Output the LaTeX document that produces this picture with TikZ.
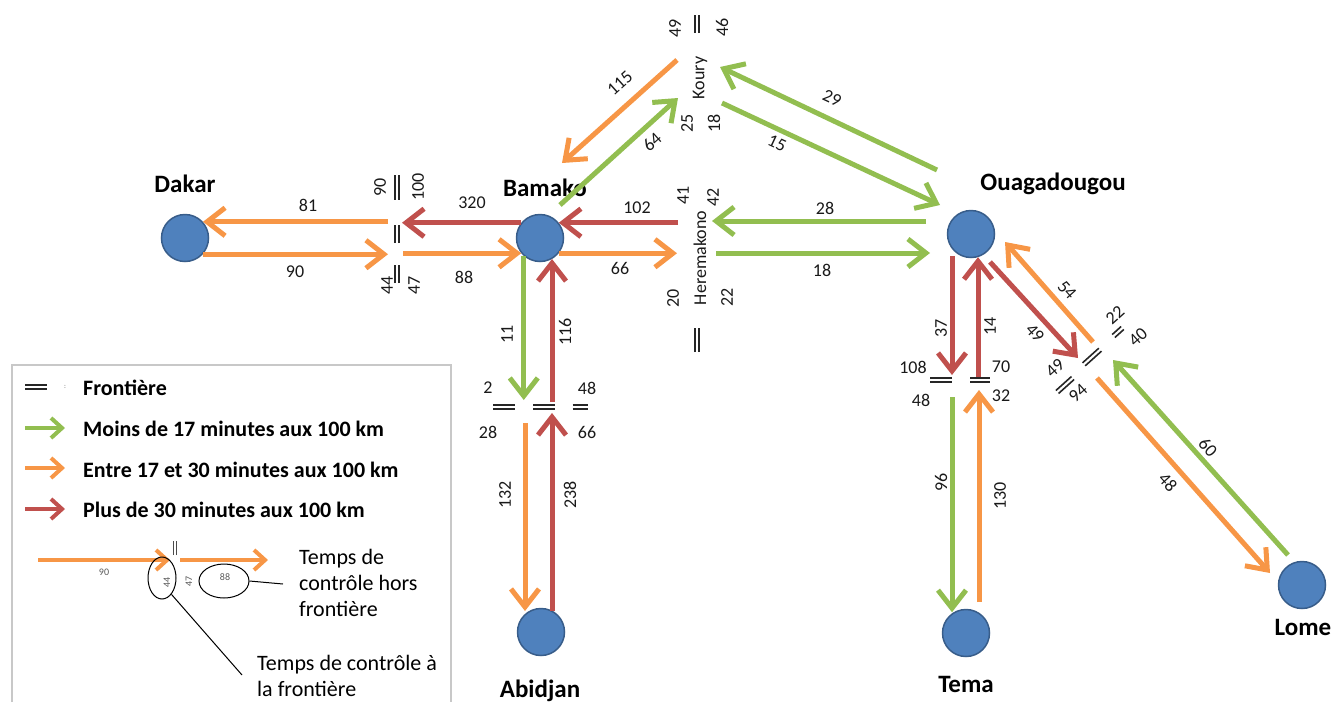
\documentclass[tikz,border=0pt]{standalone}
\usepackage{fontspec}
\setmainfont{Carlito}
\usetikzlibrary{arrows.meta,shapes.geometric}
\definecolor{cgreen}{RGB}{146,190,80}
\definecolor{corange}{RGB}{247,150,70}
\definecolor{cred}{RGB}{192,80,77}
\definecolor{cblue}{RGB}{79,129,189}
\definecolor{cblueD}{RGB}{56,93,138}
\definecolor{cbox}{RGB}{200,200,200}
\begin{document}
\begin{tikzpicture}[x=1pt,y=-1pt,
  city/.style={circle, fill=cblue, draw=cblueD, line width=1.5pt, minimum size=47pt, inner sep=0pt},
  cname/.style={font=\fontsize{25}{28}\selectfont\bfseries, anchor=base, inner sep=0pt},
  num/.style={font=\fontsize{18}{20}\selectfont, text=black!90, inner sep=0pt},
  vnum/.style={num, rotate=90},
  arr/.style={line width=5pt, -{Straight Barb[length=18pt,width=28pt,line width=5pt]}},
  ga/.style={arr, draw=cgreen},
  oa/.style={arr, draw=corange},
  ra/.style={arr, draw=cred},
  larr/.style={line width=4pt, -{Straight Barb[length=11pt,width=20pt,line width=4pt]}},
  bord/.style={line width=1.6pt, draw=black!85},
  pics/bmark/.style={code={\draw[bord] (-#1,-2)--(#1,-2) (-#1,2)--(#1,2);}},
  pics/smark/.style={code={\draw[line width=0.8pt, draw=black!70] (-#1,-1.2)--(#1,-1.2) (-#1,1.2)--(#1,1.2);}},
  leg/.style={font=\fontsize{22}{26}\selectfont\bfseries, anchor=base west, inner sep=0pt},
  legt/.style={font=\fontsize{22}{26}\selectfont, align=left, inner sep=0pt, anchor=north west},
  sn/.style={font=\fontsize{10}{12}\selectfont, text=black!65, inner sep=0pt},
  ell/.style={ellipse, draw=black, line width=1pt, inner sep=0pt},
  legline/.style={draw=black, line width=1pt}
]
\useasboundingbox (0,0) rectangle (1335,702);

% ---------- cities ----------
\node[city] (dakar) at (185,238) {};
\node[city] (bamako) at (540,238) {};
\node[city] (ouaga) at (971,234) {};
\node[city] (tema) at (966,633) {};
\node[city] (lome) at (1302,585) {};
\node[city] (abidjan) at (541,632) {};
\node[cname] (ldakar) at (185,192) {Dakar};
\node[cname] (lbamako) at (545,196) {Bamako};
\node[cname] (louaga) at (1053,190) {Ouagadougou};
\node[cname] (ltema) at (966,692) {Tema};
\node[cname] (llome) at (1303,635) {Lome};
\node[cname] (labidjan) at (540,697) {Abidjan};

% ---------- Dakar - Bamako ----------
\coordinate (bdbU) at (402,222);
\coordinate (bdbUo) at (388,222);
\coordinate (bdbLo) at (388,253);
\coordinate (bdbLs) at (403,253);
\draw[ra] (bamako.141) -- (bamako.141 -| bdbU);
\draw[oa] (bdbUo |- dakar.42) -- (dakar.42);
\draw[oa] (dakar.-42) -- (dakar.-42 -| bdbLo);
\draw[oa] (bdbLs |- bamako.-141) -- (bamako.-141);

% ---------- Bamako - Heremakono - Ouagadougou ----------
\coordinate (hU) at (678,222);
\coordinate (hL) at (677,253);
\draw[ra] (hU |- bamako.39) -- (bamako.39);
\draw[oa] (bamako.-39) -- (bamako.-39 -| hL);
\coordinate (hUg) at (712,221);
\coordinate (oUg) at (926,221);
\coordinate (hLg) at (716,253);
\coordinate (oLg) at (930,253);
\draw[ga] (oUg) -- (hUg);
\draw[ga] (hLg) -- (oLg);

% ---------- Koury ----------
\coordinate (k115s) at (677,60);
\coordinate (k115e) at (562,163);
\coordinate (k64s) at (560,205);
\coordinate (k64e) at (678,98);
\coordinate (k29s) at (937,170);
\coordinate (k29e) at (720,67);
\coordinate (k15s) at (722,103);
\coordinate (k15e) at (940,205);
\draw[oa] (k115s) -- (k115e);
\draw[ga] (k64s) -- (k64e);
\draw[ga] (k29s) -- (k29e);
\draw[ga] (k15s) -- (k15e);

% ---------- Bamako - Abidjan ----------
\coordinate (aB) at (540,400);
\coordinate (aB2) at (552,402);
\coordinate (a132s) at (525,423);
\coordinate (a238e) at (552,413);
\draw[ga] (bamako.-132) -- (bamako.-132 |- aB);
\draw[ra] (aB2) -- (aB2 |- bamako.-60);
\draw[oa] (a132s) -- (a132s |- abidjan.120);
\draw[ra] (a238e |- abidjan.62) -- (a238e);

% ---------- Ouagadougou - Tema ----------
\coordinate (t37s) at (952,256);
\coordinate (t37e) at (952,375);
\coordinate (t14s) at (978,377);
\coordinate (t96s) at (952,397);
\coordinate (t130s) at (979,602);
\coordinate (t130e) at (979,390);
\draw[ra] (t37s) -- (t37e);
\draw[ra] (t14s) -- (t14s |- ouaga.-73);
\draw[ga] (t96s) -- (t96s |- tema.121);
\draw[oa] (t130s) -- (t130e);

% ---------- Ouagadougou - Lome ----------
\coordinate (l49s) at (990,262);
\coordinate (l49e) at (1078,358);
\coordinate (l54s) at (1093,342);
\coordinate (l54e) at (1005,242);
\coordinate (l48s) at (1097,378);
\coordinate (l48e) at (1270,573);
\coordinate (l60s) at (1288,555);
\coordinate (l60e) at (1113,360);
\draw[ra] (l49s) -- (l49e);
\draw[oa] (l54s) -- (l54e);
\draw[oa] (l48s) -- (l48e);
\draw[ga] (l60s) -- (l60e);

% ---------- border marks ----------
\pic[rotate=90] at (397,187) {bmark=12.5};
\pic[rotate=90] at (397,234) {bmark=9};
\pic[rotate=90] at (397,274) {bmark=9};
\pic[rotate=90] at (697,24) {bmark=9};
\pic[rotate=90] at (697,340) {bmark=12};
\pic at (504,407) {bmark=11};
\pic at (544,407) {bmark=11};
\pic at (580,407) {bmark=7.5};
\pic at (941,380) {bmark=11};
\pic at (980,380) {bmark=10};
\pic[rotate=42] at (1092,357) {bmark=11};
\pic[rotate=42] at (1065,385) {bmark=10.5};
\pic[rotate=42] at (1118,332) {bmark=6};

% ---------- labels ----------
\node[num] (n81) at (308,205) {81};
\node[num] (n90) at (295,272) {90};
\node[num] (n320) at (472,203) {320};
\node[num] (n88) at (464,277) {88};
\node[num] (n102) at (637,208) {102};
\node[num] (n66) at (620,268) {66};
\node[num] (n28) at (825,208) {28};
\node[num] (n18) at (822,270) {18};
\node[vnum] (b90) at (380,187) {90};
\node[vnum] (b100) at (418,187) {100};
\node[vnum] (b44) at (387,285) {44};
\node[vnum] (b47) at (414,285) {47};
\node[vnum] (k49) at (675,28) {49};
\node[vnum] (k46) at (722,27) {46};
\node[vnum] (k25) at (687,123) {25};
\node[vnum] (k18) at (714,123) {18};
\node[vnum] (koury) at (700,78) {Koury};
\node[vnum] (h41) at (683,195) {41};
\node[vnum] (h42) at (713,197) {42};
\node[vnum] (herem) at (700,258) {Heremakono};
\node[vnum] (h20) at (673,298) {20};
\node[vnum] (h22) at (727,297) {22};
\node[num, rotate=42] (n115) at (620,83) {115};
\node[num, rotate=42] (n64) at (652,142) {64};
\node[num, rotate=-25] (n29) at (832,98) {29};
\node[num, rotate=-25] (n15) at (777,143) {15};
\node[vnum] (a11) at (507,334) {11};
\node[vnum] (a116) at (565,332) {116};
\node[num] (a2) at (488,388) {2};
\node[num] (a48) at (587,388) {48};
\node[num] (a28) at (488,432) {28};
\node[num] (a66) at (587,432) {66};
\node[vnum] (a132) at (505,495) {132};
\node[vnum] (a238) at (570,495) {238};
\node[vnum] (t37) at (941,328) {37};
\node[vnum] (t14) at (990,326) {14};
\node[num] (t108) at (913,367) {108};
\node[num] (t70) at (1001,367) {70};
\node[num] (t48) at (921,400) {48};
\node[num] (t32) at (1001,396) {32};
\node[vnum] (t96) at (941,482) {96};
\node[vnum] (t130) at (1000,496) {130};
\node[num, rotate=-48] (l49) at (1035,333) {49};
\node[num, rotate=-48] (l54) at (1067,290) {54};
\node[num, rotate=-48] (l48) at (1168,482) {48};
\node[num, rotate=-48] (l60) at (1208,447) {60};
\node[num, rotate=42] (l22) at (1115,315) {22};
\node[num, rotate=42] (l40) at (1138,337) {40};
\node[num, rotate=42] (l49b) at (1055,368) {49};
\node[num, rotate=42] (l94) at (1078,393) {94};

% ---------- legend ----------
\draw[draw=cbox, line width=1.2pt] (12,702) -- (12,365) -- (451,365) -- (451,702);
\pic at (36,387) {bmark=11};
\node[font=\fontsize{7}{8}\selectfont, text=black!60, inner sep=0pt] (lcolon) at (65,387) {:};
\node[leg] (lf) at (83,395) {Frontière};
\coordinate (lg1) at (25,428);
\coordinate (lg2) at (65,428);
\coordinate (lo1) at (25,468);
\coordinate (lo2) at (65,468);
\coordinate (lr1) at (25,509);
\coordinate (lr2) at (65,509);
\draw[larr, draw=cgreen] (lg1) -- (lg2);
\draw[larr, draw=corange] (lo1) -- (lo2);
\draw[larr, draw=cred] (lr1) -- (lr2);
\node[leg] (lgt) at (83,436) {Moins de 17 minutes aux 100 km};
\node[leg] (lot) at (83,477) {Entre 17 et 30 minutes aux 100 km};
\node[leg] (lrt) at (83,517) {Plus de 30 minutes aux 100 km};

\coordinate (ex1) at (38,560);
\coordinate (ex2) at (170,560);
\coordinate (ex3) at (180,560);
\coordinate (ex4) at (268,560);
\draw[larr, draw=corange] (ex1) -- (ex2);
\draw[larr, draw=corange] (ex3) -- (ex4);
\pic[rotate=90] at (175,548) {smark=7};
\node[sn] (e90) at (104,572) {90};
\node[sn, rotate=90] (e44) at (167,582) {44};
\node[sn, rotate=90] (e47) at (189,581) {47};
\node[sn] (e88) at (225,577) {88};
\node[ell, minimum width=28pt, minimum height=42pt] (el44) at (162,578) {};
\node[ell, minimum width=50pt, minimum height=34pt] (el88) at (224,581) {};
\node[legt] (tx1) at (299,549) {Temps de\\contrôle hors\\frontière};
\node[legt] (tx2) at (257,655) {Temps de contrôle à\\la frontière};
\coordinate (c1) at (283,584);
\coordinate (c2) at (242,675);
\draw[legline] (el88.east) -- (c1);
\draw[legline] (el44.-60) -- (c2);
\end{tikzpicture}
\end{document}
